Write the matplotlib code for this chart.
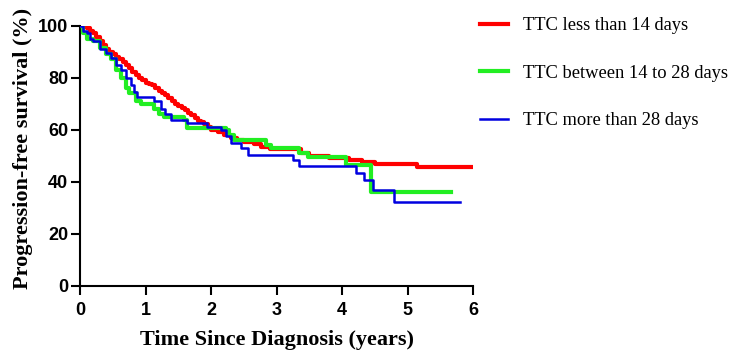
import matplotlib
matplotlib.use("Agg")
import matplotlib.pyplot as plt

# step points (time in years, survival in %)
red_t = [0, 0.05, 0.1, 0.15, 0.2, 0.25, 0.3, 0.35, 0.4, 0.45, 0.5, 0.55, 0.6, 0.65, 0.7,
         0.75, 0.8, 0.85, 0.9, 0.95, 1.0, 1.05, 1.1, 1.15, 1.2, 1.25, 1.3, 1.35, 1.4,
         1.45, 1.5, 1.55, 1.6, 1.65, 1.7, 1.75, 1.8, 1.85, 1.9, 1.95, 2.0, 2.1, 2.2,
         2.3, 2.4, 2.5, 2.65, 2.76, 2.9, 3.37, 3.5, 3.8, 4.1, 4.3, 4.5, 5.14, 6.0]
red_s = [100, 99.5, 99, 98, 97, 95.5, 94, 92.5, 91, 90, 89, 88, 87, 86, 85,
         83.5, 82, 81, 80, 79, 78, 77.5, 77, 76, 75, 74, 73.5, 72, 71,
         70, 69, 68.5, 67.5, 66.5, 65.5, 64.5, 63.5, 63, 62, 61, 60, 59, 58,
         57, 56, 55.3, 54.5, 53.4, 52.5, 51.1, 49.8, 49.2, 48.5, 47.5, 47, 45.5, 45.5]

green_t = [0, 0.05, 0.1, 0.2, 0.3, 0.4, 0.47, 0.55, 0.62, 0.7, 0.75, 0.85, 0.93, 1.13,
           1.2, 1.28, 1.59, 1.63, 2.23, 2.28, 2.35, 2.84, 2.91, 3.35, 3.48, 4.06, 4.45, 5.66]
green_s = [100, 97, 95, 94, 91.5, 89, 87, 83, 80, 76, 74, 71, 70, 68,
           66, 65, 63.6, 60.5, 60, 58, 56, 54.2, 53, 51.1, 49.6, 46.5, 35.9, 35.9]

blue_t = [0, 0.05, 0.1, 0.15, 0.2, 0.3, 0.4, 0.47, 0.55, 0.62, 0.7, 0.78, 0.83, 0.87,
          1.13, 1.23, 1.3, 1.39, 1.63, 1.94, 2.15, 2.23, 2.3, 2.46, 2.56, 3.25, 3.35,
          4.22, 4.33, 4.48, 4.8, 5.8]
blue_s = [100, 98, 97, 95, 94, 91, 89.5, 87.7, 85, 82.8, 80, 77, 74.5, 72.4,
          71, 68, 66, 63.6, 62.4, 61, 59.8, 57.5, 54.8, 52.9, 50.4, 48.5, 46.2,
          43.5, 40.5, 37, 32.4, 32.4]

labels = ["TTC less than 14 days", "TTC between 14 to 28 days", "TTC more than 28 days"]

fig = plt.figure(figsize=(7.31, 3.5), dpi=100)
ax = fig.add_axes([80 / 731, 1 - 286 / 350, (473 - 80) / 731, (286 - 25.5) / 350])

l1, = ax.step(red_t, red_s, where="post", color="#ff0000", lw=3.0, zorder=2)
l2, = ax.step(green_t, green_s, where="post", color="#22ee22", lw=3.0, zorder=3)
l3, = ax.step(blue_t, blue_s, where="post", color="#0000e0", lw=1.8, zorder=4)

ax.set_xlim(0, 6)
ax.set_ylim(0, 100)
ax.set_xticks(range(0, 7))
ax.set_yticks(range(0, 101, 20))
for s in ["top", "right"]:
    ax.spines[s].set_visible(False)
for s in ["left", "bottom"]:
    ax.spines[s].set_linewidth(1.5)
ax.tick_params(direction="out", length=6.5, width=1.5)
ax.tick_params(axis="x", pad=5)
ax.tick_params(axis="y", pad=2)
for lab in ax.get_xticklabels() + ax.get_yticklabels():
    lab.set_fontfamily("Liberation Sans")
    lab.set_fontweight("bold")
    lab.set_fontsize(13)

ax.set_xlabel("Time Since Diagnosis (years)", family="Liberation Serif",
              fontweight="bold", fontsize=16, labelpad=8)
ax.set_ylabel("Progression-free survival (%)", family="Liberation Serif",
              fontweight="bold", fontsize=16)
ax.yaxis.set_label_coords(-0.12, 0.528)

fig.legend([l1, l2, l3], labels, loc="upper left", bbox_to_anchor=(473 / 731, 1 - 10 / 350),
           frameon=False, prop={"family": "Liberation Serif", "size": 13.3},
           handlelength=1.5, handletextpad=0.8, labelspacing=1.65, borderaxespad=0)

fig.savefig("out.png", dpi=100)
